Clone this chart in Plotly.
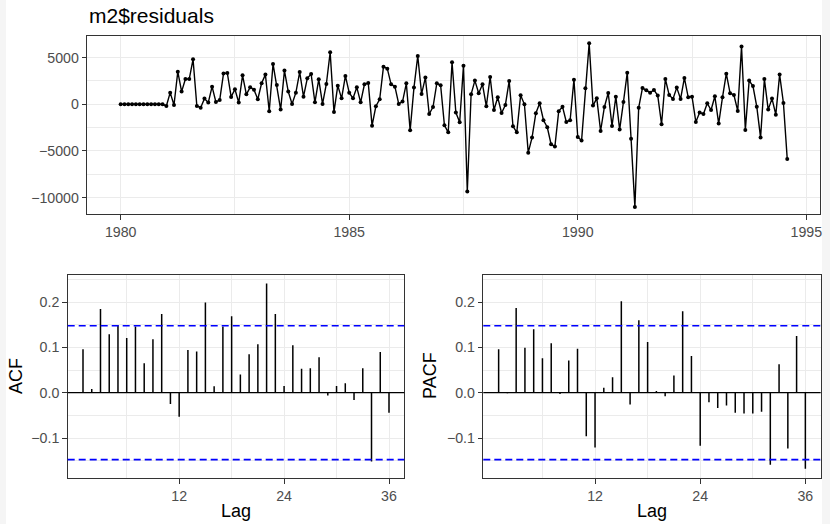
import numpy as np
import plotly.graph_objects as go

# ---------------- data ----------------
start_year = 1980
freq = 12
residuals = [
    0, 0, 0, 0, 0, 0, 0, 0, 0, 0, 0, 0,
    -180, 1250, -70, 3500, 1360, 2710, 2710, 4820, -180, -360, 610, 180,
    1890, 250, 460, 3290, 3360, 790, 1610, 180, 3100, 1070, 1820, 1570,
    540, 2250, 3180, -750, 4320, 2070, -570, 3610, 1360, 40, 1250, 3460,
    820, 2790, 3250, 210, 2680, 40, 2180, 5570, -820, 2000, 640, 3040,
    1250, 640, 1820, 210, 2140, 2290, -2290, -210, 540, 4030, 3820, 2140,
    1890, 40, 290, 2250, -2790, 1790, 5180, 1110, 2860, -1040, -290, 2250,
    2040, -2250, -3000, 4500, -890, -1930, 4140, -9350, 1070, 2540, 1180, 2140,
    -210, 2930, -610, 750, -930, -70, 2500, -2360, -3000, 960, 0, -5180,
    -3570, -960, 110, -1710, -2460, -4280, -4530, -750, -250, -1890, -1710, 2640,
    -3500, -3890, 1710, 6530, -140, 640, -2860, -290, 1210, -2320, 820, -2710,
    250, 3390, -3680, -11000, -360, 1750, 1500, 1250, 1540, 930, -2140, 2710,
    1000, 570, 1790, 570, 2820, 750, 820, -1890, -890, -1040, 110, -610,
    860, -2070, 750, 3280, 1180, 1000, -710, 6180, -2750, 2540, 1960, -250,
    -3570, 2710, -570, 610, -1110, 3180, 140, -5860,
]
lags = list(range(1, 37))
acf_vals = [
    0.096, 0.008, 0.185, 0.129, 0.149, 0.121, 0.146, 0.065, 0.118, 0.174,
    -0.025, -0.053, 0.094, 0.091, 0.199, 0.014, 0.146, 0.169, 0.040, 0.085,
    0.107, 0.241, 0.174, 0.015, 0.105, 0.053, 0.054, 0.078, -0.006, 0.015,
    0.021, -0.016, 0.054, -0.152, 0.090, -0.044,
]
pacf_vals = [
    0.096, -0.001, 0.187, 0.099, 0.140, 0.076, 0.109, -0.003, 0.071, 0.097,
    -0.096, -0.121, 0.011, 0.034, 0.202, -0.026, 0.160, 0.112, 0.004, -0.008,
    0.038, 0.180, 0.081, -0.117, -0.021, -0.034, -0.028, -0.044, -0.046, -0.046,
    -0.042, -0.159, 0.063, -0.123, 0.125, -0.168,
]
top_tickvals = [-10000, -5000, 0, 5000]
top_ticktext = ["\u221210000", "\u22125000", "0", "5000"]
year_ticks = [1980, 1985, 1990, 1995]
lag_ticks = [12, 24, 36]
acf_tickvals = [-0.1, 0.0, 0.1, 0.2]
acf_ticktext = ["\u22120.1", "0.0", "0.1", "0.2"]

# ---------------- helpers ----------------
W, H = 830, 524
def fx(px):
    return px / W
def fy(py):
    return 1 - py / H

n = len(residuals)
t = start_year + np.arange(n) / freq
ci = 1.96 / np.sqrt(n)

def stems(xs, ys):
    sx, sy = [], []
    for a, b in zip(xs, ys):
        sx += [a, a, None]
        sy += [0, b, None]
    return sx, sy

fig = go.Figure()
fig.add_trace(go.Scatter(x=t, y=residuals, mode="lines+markers",
                         line=dict(color="black", width=1.4),
                         marker=dict(color="black", size=4),
                         xaxis="x", yaxis="y", showlegend=False, hoverinfo="skip"))
ax, ay = stems(lags, acf_vals)
fig.add_trace(go.Scatter(x=ax, y=ay, mode="lines", line=dict(color="black", width=1.5),
                         xaxis="x2", yaxis="y2", showlegend=False, hoverinfo="skip"))
px_, py_ = stems(lags, pacf_vals)
fig.add_trace(go.Scatter(x=px_, y=py_, mode="lines", line=dict(color="black", width=1.5),
                         xaxis="x3", yaxis="y3", showlegend=False, hoverinfo="skip"))

GRID = "#ebebeb"
BORDER = "#333333"
TICKFONT = dict(family="Liberation Sans, Arial, sans-serif", size=14.2, color="#4d4d4d")

def axis_common():
    return dict(showline=True, mirror=True, linecolor=BORDER, linewidth=1.1,
                ticks="outside", ticklen=4.5, tickwidth=1.1, tickcolor=BORDER,
                showgrid=True, gridcolor=GRID, gridwidth=1.3, zeroline=False,
                tickfont=TICKFONT, fixedrange=True)

top_dom_x = [fx(87.3), fx(820)]
top_dom_y = [fy(214.3), fy(35.7)]
acf_dom_x = [fx(67.7), fx(404.3)]
pacf_dom_x = [fx(483.3), fx(820.7)]
bot_dom_y = [fy(478), fy(274.7)]

lag_range = [-0.75, 37.75]
acf_range = [-0.1883, 0.2605]

layout = dict(
    width=W, height=H, template="none",
    margin=dict(l=0, r=0, t=0, b=0),
    paper_bgcolor="#f5f5f5", plot_bgcolor="white",
    font=dict(family="Liberation Sans, Arial, sans-serif", color="black"),
    xaxis=dict(domain=top_dom_x, range=[1979.27, 1995.30], anchor="y",
               tickmode="array", tickvals=year_ticks,
               minor=dict(tickvals=[1982.5, 1987.5, 1992.5], showgrid=True,
                          gridcolor=GRID, gridwidth=0.6, ticks=""),
               **axis_common()),
    yaxis=dict(domain=top_dom_y, range=[-11785, 7350], anchor="x",
               tickmode="array", tickvals=top_tickvals, ticktext=top_ticktext,
               minor=dict(tickvals=[-7500, -2500, 2500], showgrid=True,
                          gridcolor=GRID, gridwidth=0.6, ticks=""),
               **axis_common()),
    xaxis2=dict(domain=acf_dom_x, range=lag_range, anchor="y2",
                tickmode="array", tickvals=lag_ticks,
                minor=dict(tickvals=[6, 18, 30], showgrid=True,
                           gridcolor=GRID, gridwidth=0.6, ticks=""),
                **axis_common()),
    yaxis2=dict(domain=bot_dom_y, range=acf_range, anchor="x2",
                tickmode="array", tickvals=acf_tickvals, ticktext=acf_ticktext,
                minor=dict(tickvals=[-0.15, -0.05, 0.05, 0.15, 0.25], showgrid=True,
                           gridcolor=GRID, gridwidth=0.6, ticks=""),
                **axis_common()),
    xaxis3=dict(domain=pacf_dom_x, range=lag_range, anchor="y3",
                tickmode="array", tickvals=lag_ticks,
                minor=dict(tickvals=[6, 18, 30], showgrid=True,
                           gridcolor=GRID, gridwidth=0.6, ticks=""),
                **axis_common()),
    yaxis3=dict(domain=bot_dom_y, range=acf_range, anchor="x3",
                tickmode="array", tickvals=acf_tickvals, ticktext=acf_ticktext,
                minor=dict(tickvals=[-0.15, -0.05, 0.05, 0.15, 0.25], showgrid=True,
                           gridcolor=GRID, gridwidth=0.6, ticks=""),
                **axis_common()),
)
fig.update_layout(**layout)

shapes = [dict(type="rect", xref="paper", yref="paper", x0=fx(6), x1=fx(822), y0=0, y1=1,
               fillcolor="white", line=dict(width=0), layer="below")]
for xa, ya in (("x2", "y2"), ("x3", "y3")):
    shapes.append(dict(type="line", xref=f"{xa} domain", yref=ya, x0=0, x1=1, y0=0, y1=0,
                       line=dict(color="black", width=1.2), layer="above"))
    for c in (ci, -ci):
        shapes.append(dict(type="line", xref=f"{xa} domain", yref=ya, x0=0, x1=1, y0=c, y1=c,
                           line=dict(color="#0000ff", width=1.6, dash="7px,4px"), layer="above"))
fig.update_layout(shapes=shapes)

ann = [
    dict(text="m2$residuals", x=fx(86.5), y=fy(15.5), xanchor="left", yanchor="middle",
         font=dict(size=21, color="black")),
    dict(text="ACF", x=fx(16), y=fy(376), textangle=-90, xanchor="center", yanchor="middle",
         font=dict(size=18, color="black")),
    dict(text="PACF", x=fx(430), y=fy(376), textangle=-90, xanchor="center", yanchor="middle",
         font=dict(size=18, color="black")),
    dict(text="Lag", x=fx(236), y=fy(511), xanchor="center", yanchor="middle",
         font=dict(size=18, color="black")),
    dict(text="Lag", x=fx(652), y=fy(511), xanchor="center", yanchor="middle",
         font=dict(size=18, color="black")),
]
for a in ann:
    a.update(xref="paper", yref="paper", showarrow=False)
fig.update_layout(annotations=ann)

fig.write_html("out.html")
